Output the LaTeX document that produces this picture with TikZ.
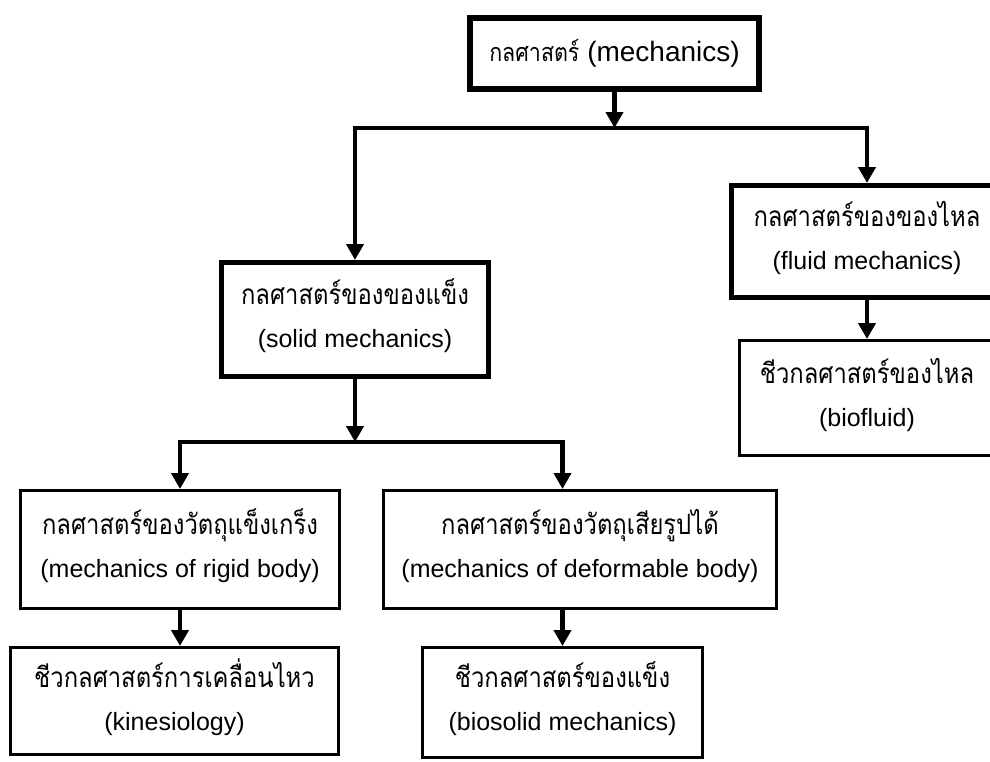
\documentclass[tikz,border=0pt]{standalone}
\usepackage{fontspec}
\setmainfont{Liberation Sans}
\newfontfamily\thaifont[Script=Thai,Scale=1.12,FakeStretch=0.85]{Loma}
\newcommand{\thtxt}[1]{{\thaifont #1}}
\usetikzlibrary{arrows.meta}

\tikzset{
  box/.style={draw, line width=3pt, align=center, inner sep=0pt,
    text depth=12pt, font=\fontsize{25}{43}\selectfont},
  bigbox/.style={box, line width=5pt},
  rootbox/.style={draw, line width=6pt, inner sep=0pt,
    font=\fontsize{28}{34}\selectfont},
  arr/.style={line width=4.5pt, -{Triangle[width=17pt,length=16pt]}},
}

\begin{document}
\begin{tikzpicture}[x=1pt,y=-1pt]
\useasboundingbox (0,0) rectangle (990,761);
\clip (0,0) rectangle (990,761);
% Top of the tree
\node[rootbox, minimum width=289pt, minimum height=71pt] (mech) at (614.5,53.5)
  {{\thaifont\fontsize{22.5}{30}\selectfont กลศาสตร์} (mechanics)};
% Second level
\node[bigbox, minimum width=267pt, minimum height=114pt] (solid) at (355,319.5)
  {\thtxt{กลศาสตร์ของของแข็ง}\\(solid mechanics)};
\node[bigbox, minimum width=271pt, minimum height=112pt] (fluid) at (867,241.5)
  {\thtxt{กลศาสตร์ของของไหล}\\(fluid mechanics)};
\node[box, minimum width=255pt, minimum height=115pt] (biofluid) at (867,398)
  {\thtxt{ชีวกลศาสตร์ของไหล}\\(biofluid)};
% Third level
\node[box, minimum width=319pt, minimum height=118pt] (rigid) at (180,549.5)
  {\thtxt{กลศาสตร์ของวัตถุแข็งเกร็ง}\\(mechanics of rigid body)};
\node[box, minimum width=393pt, minimum height=118pt] (deform) at (580,549.5)
  {\thtxt{กลศาสตร์ของวัตถุเสียรูปได้}\\(mechanics of deformable body)};
% Bottom row
\node[box, minimum width=328pt, minimum height=107pt] (kines) at (174.5,701)
  {\thtxt{ชีวกลศาสตร์การเคลื่อนไหว}\\(kinesiology)};
\node[box, minimum width=280pt, minimum height=110pt] (biosolid) at (562.5,702.5)
  {\thtxt{ชีวกลศาสตร์ของแข็ง}\\(biosolid mechanics)};
% Connectors
\coordinate (split1) at (614.5,128);
\coordinate (split2) at (355,442);
\draw[arr] (mech) -- (split1);
\draw[arr] (split1) -| (solid);
\draw[arr] (split1) -| (fluid);
\draw[arr] (fluid) -- (biofluid);
\draw[arr] (solid) -- (split2);
\draw[arr] (split2) -| (rigid);
\draw[arr] (split2) -| (deform.north -| biosolid.north);
\draw[arr] (rigid.south) -- (rigid.south |- kines.north);
\draw[arr] (deform.south -| biosolid.north) -- (biosolid);
\end{tikzpicture}
\end{document}
